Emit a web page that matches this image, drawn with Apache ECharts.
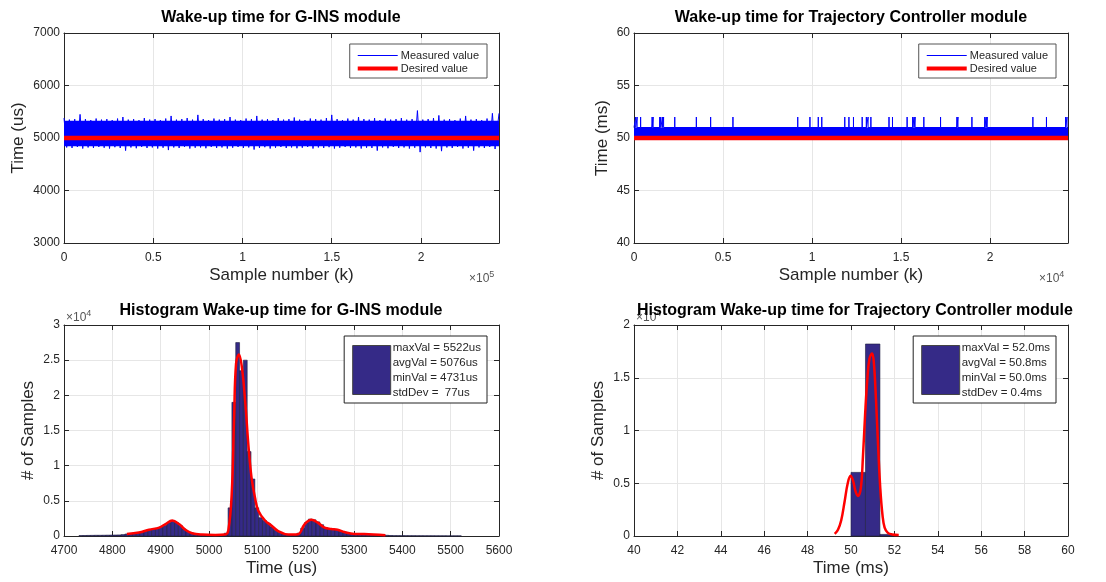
<!DOCTYPE html>
<html>
<head>
<meta charset="utf-8">
<script src="https://cdn.jsdelivr.net/npm/echarts@6/dist/echarts.min.js"></script>
<style>
  html, body { margin: 0; padding: 0; background: #fff; }
  #main { width: 1106px; height: 582px; }
</style>
</head>
<body>
<div id="main"></div>
<script>
// ---- G-INS wake-up time (us), samples 0 .. 243700 ----
var ginsLastSample = 243700;
var ginsStep = 3000;
// upper spikes of the measured band, one every 3000 samples
var ginsHigh = [5380, 5350, 5360, 5450, 5360, 5340, 5370, 5350, 5360, 5340, 5370, 5400, 5350, 5360,
  5340, 5380, 5350, 5360, 5340, 5370, 5420, 5350, 5360, 5380, 5350, 5440, 5360, 5340, 5370, 5350,
  5360, 5400, 5350, 5340, 5370, 5360, 5420, 5350, 5360, 5340, 5380, 5350, 5360, 5390, 5350, 5340,
  5370, 5360, 5350, 5380, 5440, 5360, 5340, 5370, 5350, 5400, 5360, 5350, 5380, 5340, 5370, 5350,
  5360, 5380, 5350, 5360, 5522, 5350, 5360, 5380, 5430, 5350, 5360, 5340, 5370, 5420, 5350, 5360,
  5340, 5370, 5470];
// lower spikes of the measured band
var ginsLow = [4820, 4810, 4830, 4800, 4820, 4810, 4830, 4815, 4800, 4825, 4810, 4760, 4820, 4805,
  4830, 4810, 4820, 4800, 4815, 4770, 4820, 4810, 4830, 4800, 4815, 4820, 4805, 4830, 4810, 4820,
  4800, 4815, 4830, 4810, 4820, 4780, 4810, 4825, 4800, 4815, 4830, 4810, 4820, 4805, 4815, 4830,
  4800, 4820, 4810, 4825, 4800, 4815, 4830, 4810, 4820, 4800, 4815, 4810, 4760, 4820, 4805, 4830,
  4810, 4820, 4800, 4815, 4731, 4820, 4810, 4800, 4750, 4820, 4810, 4830, 4800, 4815, 4760, 4820,
  4810, 4830, 4790];
// solid core of the band [fromSample, toSample, low, high]
var ginsCore = [[0, 243700, 4845, 5330]];
var ginsDesired = 5000;

// ---- Trajectory Controller wake-up time (ms), samples 0 .. 24380 ----
var trcLastSample = 24380;
var trcCore = [[0, 24380, 50, 51]];
var trcBase = 51;
var trcMax = 52;
var trcSpikeX = [98, 176, 372, 1018, 1076, 1448, 1507, 1605, 1663, 2290, 3503, 4305, 5558, 9198,
  9883, 10352, 10548, 11840, 12074, 12329, 12818, 13053, 13151, 13307, 14325, 14521, 15342, 15656,
  15734, 15793, 16282, 17221, 18141, 18200, 18982, 19706, 19785, 19843, 22407, 23170, 24247, 24325];
var trcDesired = 50;

// ---- Histogram G-INS ----
var ginsBinStart = 4731;
var ginsBinWidth = 7.91;
var ginsCounts = [60, 70, 80, 90, 100, 100, 110, 120, 130, 140, 150, 200, 280, 330, 380, 450, 550,
  700, 850, 1000, 1100, 1250, 1500, 1900, 2200, 1900, 1500, 1000, 650, 420, 280, 200, 160, 140, 130,
  120, 120, 150, 400, 4000, 19000, 27500, 23500, 25000, 12000, 8100, 4000, 2600, 2200, 1800, 1300,
  800, 500, 300, 200, 150, 180, 400, 1100, 1900, 2400, 2300, 2000, 1600, 1200, 1000, 950, 900, 700,
  550, 400, 320, 280, 260, 240, 220, 200, 170, 140, 120, 100, 70, 50, 50, 45, 45, 40, 40, 35, 35, 30,
  30, 30, 25, 25, 25, 20, 20, 20, 20];
var ginsFitX = [4830, 4855, 4876, 4897, 4910, 4924, 4938, 4951, 4965, 4986, 5013, 5033, 5040, 5047,
  5052, 5056, 5062, 5068, 5075, 5082, 5088, 5095, 5102, 5116, 5129, 5143, 5164, 5184, 5198, 5212,
  5225, 5239, 5253, 5266, 5280, 5301, 5321, 5365];
var ginsFitY = [300, 500, 900, 1200, 1700, 2200, 1700, 900, 400, 200, 150, 200, 800, 6000,
  17000, 24500, 25800, 24000, 19000, 12500, 8300, 5500, 3600, 2200, 1500, 700, 200, 250, 1700, 2300,
  1900, 1200, 1000, 900, 560, 300, 280, 100];

// ---- Histogram Trajectory Controller ----
var trcBinEdges = [50.0, 50.667, 51.333, 52.0];
var trcCounts = [6030, 18200, 150];
var trcFitX = [49.25, 49.4, 49.55, 49.7, 49.85, 49.98, 50.1, 50.2, 50.32, 50.45, 50.55, 50.65, 50.75,
  50.85, 50.97, 51.05, 51.15, 51.25, 51.35, 51.45, 51.55, 51.7, 51.9, 52.2];
var trcFitY = [200, 600, 1500, 3200, 5000, 5700, 5200, 4300, 3800, 4500, 7500, 11500, 14800,
  16800, 17300, 16500, 13000, 8500, 4500, 2000, 800, 300, 150, 100];

var ginsLegendText = 'maxVal = 5522us\navgVal = 5076us\nminVal = 4731us\nstdDev =  77us';
var trcLegendText = 'maxVal = 52.0ms\navgVal = 50.8ms\nminVal = 50.0ms\nstdDev = 0.4ms';

var font = 'Liberation Sans, Arial, Helvetica, sans-serif';
var ink = '#262626';
var blue = '#0000ff';
var red = '#ff0000';
var navy = '#352a87';

var grids = [
  { left: 64, top: 33, width: 435, height: 210 },
  { left: 634, top: 33, width: 434, height: 210 },
  { left: 64, top: 325, width: 435, height: 211 },
  { left: 634, top: 325, width: 434, height: 211 }
];

function fmtScale(s) {
  return function(v) { return String(+(v / s).toFixed(3)); };
}
var plain = fmtScale(1);

function mainX(gi, min, max, interval, name, fmt) {
  return {
    type: 'value', gridIndex: gi, min: min, max: max, interval: interval,
    name: name, nameLocation: 'middle', nameGap: 24,
    nameTextStyle: { fontFamily: font, fontSize: 17, color: ink },
    axisLine: { show: true, lineStyle: { color: ink, width: 1 } },
    axisTick: { show: true, inside: true, length: 5, lineStyle: { color: ink } },
    axisLabel: { fontFamily: font, fontSize: 12, color: ink, margin: 9, showMaxLabel: max % interval === 0, formatter: fmt },
    splitLine: { show: true, lineStyle: { color: '#e6e6e6' } }
  };
}
function mainY(gi, min, max, interval, name, gap, fmt) {
  return {
    type: 'value', gridIndex: gi, min: min, max: max, interval: interval,
    name: name, nameLocation: 'middle', nameGap: gap,
    nameTextStyle: { fontFamily: font, fontSize: 17, color: ink },
    axisLine: { show: true, lineStyle: { color: ink, width: 1 } },
    axisTick: { show: true, inside: true, length: 5, lineStyle: { color: ink } },
    axisLabel: { fontFamily: font, fontSize: 12, color: ink, margin: 4, formatter: fmt },
    splitLine: { show: true, lineStyle: { color: '#e6e6e6' } }
  };
}
function boxAxis(gi, pos, min, max, interval) {
  return {
    type: 'value', gridIndex: gi, position: pos, min: min, max: max, interval: interval,
    axisLine: { show: true, onZero: false, lineStyle: { color: ink, width: 1 } },
    axisTick: { show: true, inside: true, length: 5, lineStyle: { color: ink } },
    axisLabel: { show: false },
    splitLine: { show: false }
  };
}

var xAxes = [
  mainX(0, 0, ginsLastSample, 50000, 'Sample number (k)', fmtScale(1e5)),
  mainX(1, 0, trcLastSample, 5000, 'Sample number (k)', fmtScale(1e4)),
  mainX(2, 4700, 5600, 100, 'Time (us)', plain),
  mainX(3, 40, 60, 2, 'Time (ms)', plain),
  boxAxis(0, 'top', 0, ginsLastSample, 50000),
  boxAxis(1, 'top', 0, trcLastSample, 5000),
  boxAxis(2, 'top', 4700, 5600, 100),
  boxAxis(3, 'top', 40, 60, 2)
];
var yAxes = [
  mainY(0, 3000, 7000, 1000, 'Time (us)', 37, plain),
  mainY(1, 40, 60, 5, 'Time (ms)', 23, plain),
  mainY(2, 0, 30000, 5000, '# of Samples', 27, fmtScale(1e4)),
  mainY(3, 0, 20000, 5000, '# of Samples', 27, fmtScale(1e4)),
  boxAxis(0, 'right', 3000, 7000, 1000),
  boxAxis(1, 'right', 40, 60, 5),
  boxAxis(2, 'right', 0, 30000, 5000),
  boxAxis(3, 'right', 0, 20000, 5000)
];

// zigzag line through the spikes of the G-INS measurement
var ginsLine = [];
for (var i = 0; i < ginsHigh.length; i++) {
  ginsLine.push([Math.min(i * ginsStep, ginsLastSample), ginsHigh[i]]);
  ginsLine.push([Math.min(i * ginsStep + ginsStep / 2, ginsLastSample), ginsLow[i]]);
}
ginsLine.push([ginsLastSample, ginsHigh[ginsHigh.length - 1]]);

var trcLine = [[0, trcBase]];
trcSpikeX.forEach(function(x) {
  trcLine.push([x, trcBase], [x, trcMax], [x, trcBase]);
});
trcLine.push([trcLastSample, trcBase]);

var ginsBins = ginsCounts.map(function(c, i) {
  return [ginsBinStart + i * ginsBinWidth, ginsBinStart + (i + 1) * ginsBinWidth, c];
});
var trcBins = trcCounts.map(function(c, i) {
  return [trcBinEdges[i], trcBinEdges[i + 1], c];
});

function bandItem(params, api) {
  var a = api.coord([api.value(0), api.value(2)]);
  var b = api.coord([api.value(1), api.value(3)]);
  return { type: 'rect', shape: { x: a[0], y: b[1], width: b[0] - a[0], height: a[1] - b[1] },
    style: { fill: blue } };
}
function histItem(params, api) {
  var a = api.coord([api.value(0), 0]);
  var b = api.coord([api.value(1), api.value(2)]);
  return { type: 'rect', shape: { x: a[0], y: b[1], width: b[0] - a[0], height: a[1] - b[1] },
    style: { fill: navy, stroke: '#1e1e40', lineWidth: 0.6 } };
}
function zip(xs, ys) { return xs.map(function(x, i) { return [x, ys[i]]; }); }

var series = [
  { type: 'custom', name: 'ginsCore', xAxisIndex: 0, yAxisIndex: 0, data: ginsCore,
    encode: { x: [0, 1], y: [2, 3] }, renderItem: bandItem, silent: true },
  { type: 'line', name: 'Measured value', xAxisIndex: 0, yAxisIndex: 0, data: ginsLine,
    symbol: 'none', lineStyle: { color: blue, width: 1 }, itemStyle: { color: blue } },
  { type: 'line', name: 'Desired value', xAxisIndex: 0, yAxisIndex: 0,
    data: [[0, ginsDesired], [ginsLastSample, ginsDesired]],
    symbol: 'none', lineStyle: { color: red, width: 4.5 }, itemStyle: { color: red } },

  { type: 'custom', name: 'trcCore', xAxisIndex: 1, yAxisIndex: 1, data: trcCore,
    encode: { x: [0, 1], y: [2, 3] }, renderItem: bandItem, silent: true },
  { type: 'line', name: 'Measured value', xAxisIndex: 1, yAxisIndex: 1, data: trcLine,
    symbol: 'none', lineStyle: { color: blue, width: 1 }, itemStyle: { color: blue } },
  { type: 'line', name: 'Desired value', xAxisIndex: 1, yAxisIndex: 1,
    data: [[0, trcDesired], [trcLastSample, trcDesired]],
    symbol: 'none', lineStyle: { color: red, width: 4.5 }, itemStyle: { color: red } },

  { type: 'custom', name: ginsLegendText, xAxisIndex: 2, yAxisIndex: 2, data: ginsBins,
    encode: { x: [0, 1], y: 2 }, renderItem: histItem,
    itemStyle: { color: navy, borderColor: '#444', borderWidth: 1 } },
  { type: 'line', name: 'ginsFit', xAxisIndex: 2, yAxisIndex: 2, data: zip(ginsFitX, ginsFitY),
    symbol: 'none', smooth: 0.4, lineStyle: { color: red, width: 2.5 } },

  { type: 'custom', name: trcLegendText, xAxisIndex: 3, yAxisIndex: 3, data: trcBins,
    encode: { x: [0, 1], y: 2 }, renderItem: histItem,
    itemStyle: { color: navy, borderColor: '#444', borderWidth: 1 } },
  { type: 'line', name: 'trcFit', xAxisIndex: 3, yAxisIndex: 3, data: zip(trcFitX, trcFitY),
    symbol: 'none', smooth: 0.4, lineStyle: { color: red, width: 2.5 } }
];

function lineLegend(right) {
  return {
    orient: 'vertical', right: right, top: 44, itemWidth: 40, itemHeight: 13, itemGap: 2,
    padding: [6, 8, 4, 6], backgroundColor: '#fff', borderColor: '#555', borderWidth: 1,
    selectedMode: false,
    textStyle: { fontFamily: font, fontSize: 11, color: ink, padding: [0, 0, 0, -2] },
    data: [
      { name: 'Measured value', lineStyle: { color: blue, width: 1.2, opacity: 1 },
        itemStyle: { opacity: 0, borderWidth: 0 } },
      { name: 'Desired value', lineStyle: { color: red, width: 4, opacity: 1 },
        itemStyle: { opacity: 0, borderWidth: 0 } }
    ]
  };
}
function histLegend(right, name) {
  return {
    orient: 'vertical', right: right, top: 336, itemWidth: 38, itemHeight: 49,
    padding: [4, 6, 3, 8], backgroundColor: '#fff', borderColor: '#222', borderWidth: 1,
    selectedMode: false, icon: 'rect',
    textStyle: { fontFamily: font, fontSize: 11.5, color: ink, lineHeight: 15, padding: [0, 0, 0, -3] },
    itemStyle: { color: navy, borderColor: '#444', borderWidth: 1 },
    data: [name]
  };
}

function title(text, x, y) {
  return { type: 'text', x: x, y: y, z: 10,
    style: { text: text, fontFamily: font, fontSize: 16, fontWeight: 'bold', fill: '#000',
      align: 'center', verticalAlign: 'middle' } };
}
function expo(x, y, p) {
  return { type: 'text', x: x, y: y, z: 5,
    style: { text: '×10{s|' + p + '}', fontFamily: font, fontSize: 12, fill: '#555',
      align: 'left', verticalAlign: 'middle',
      rich: { s: { fontSize: 9, fill: '#555', verticalAlign: 'top', padding: [0, 0, 8, 0] } } } };
}

var chart = echarts.init(document.getElementById('main'), null, { renderer: 'canvas' });
chart.setOption({
  animation: false,
  backgroundColor: '#fff',
  grid: grids,
  xAxis: xAxes,
  yAxis: yAxes,
  legend: [lineLegend(619), lineLegend(50), histLegend(619, ginsLegendText), histLegend(50, trcLegendText)],
  series: series,
  graphic: [
    expo(469, 279, 5),
    expo(1039, 279, 4),
    expo(66, 318, 4),
    expo(636, 318, 4),
    title('Wake-up time for G-INS module', 281, 18),
    title('Wake-up time for Trajectory Controller module', 851, 18),
    title('Histogram Wake-up time for G-INS module', 281, 311),
    title('Histogram Wake-up time for Trajectory Controller module', 855, 311)
  ]
});
window.addEventListener('resize', function() { chart.resize(); });
</script>
</body>
</html>
